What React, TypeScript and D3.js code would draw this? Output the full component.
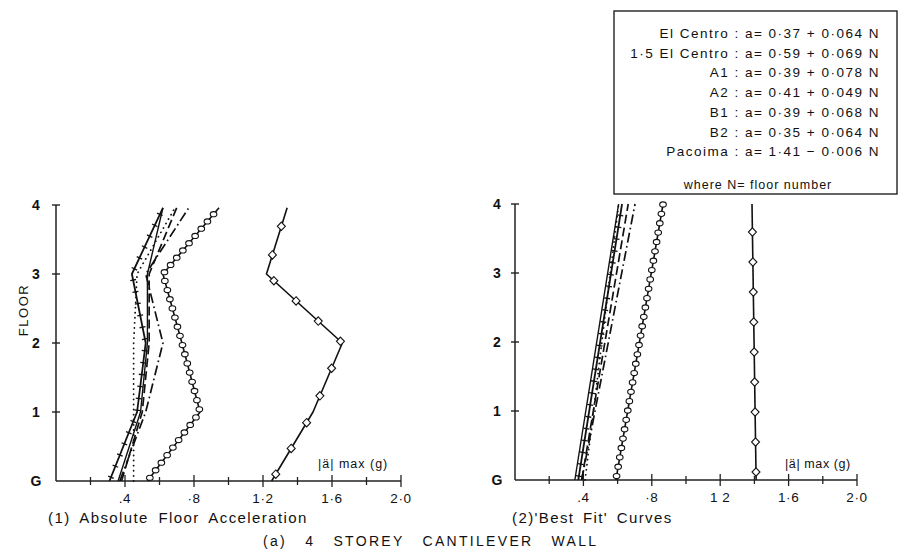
import React from "react";
import * as d3 from "d3";

// Floor levels (G = 0) and their labels
const FLOOR_LEVELS = [0, 1, 2, 3, 4];
const FLOOR_LABELS = ["G", "1", "2", "3", "4"];

// Peak absolute floor acceleration |a| max (g) per record, floors G..4
const SERIES_NAMES = ["El Centro", "1.5 El Centro", "A1", "A2", "B1", "B2", "Pacoima"];
const EL_CENTRO = [0.31, 0.47, 0.52, 0.44, 0.62];
const EL_CENTRO_15 = [0.53, 0.835, 0.73, 0.62, 0.945];
const A1 = [0.37, 0.52, 0.62, 0.52, 0.77];
const A2 = [0.45, 0.45, 0.45, 0.47, 0.69];
const B1 = [0.38, 0.5, 0.54, 0.54, 0.7];
const B2 = [0.36, 0.49, 0.53, 0.53, 0.62];
const PACOIMA = [1.25, 1.49, 1.66, 1.22, 1.34];

// Best-fit coefficients a = intercept + slope * N
const FIT_INTERCEPT = [0.37, 0.59, 0.39, 0.41, 0.39, 0.35, 1.41];
const FIT_SLOPE = [0.064, 0.069, 0.078, 0.049, 0.068, 0.064, -0.006];
const FIT_TEXT = [
  "El  Centro : a= 0·37 + 0·064 N",
  "1·5 El  Centro : a= 0·59 + 0·069 N",
  "A1 : a= 0·39 + 0·078 N",
  "A2 : a= 0·41 + 0·049 N",
  "B1 : a= 0·39 + 0·068 N",
  "B2 : a= 0·35 + 0·064 N",
  "Pacoima : a= 1·41 − 0·006 N",
];

// Acceleration axis ticks
const MAJOR_TICKS = [0.4, 0.8, 1.2, 1.6, 2.0];
const MINOR_TICKS = [0.2, 0.6, 1.0, 1.4, 1.8];
const LEFT_TICK_TEXT = [".4", "·8", "1·2", "1·6", "2·0"];
const RIGHT_TICK_TEXT = [".4", "·8", "1 2", "1·6", "2·0"];

const OBSERVED = [EL_CENTRO, EL_CENTRO_15, A1, A2, B1, B2, PACOIMA];

type Style = {
  dash?: string;
  width: number;
  marker?: "cross" | "circle" | "diamond";
  spacing?: number;
  cap?: "round" | "butt";
};

const STYLES: Style[] = [
  { width: 1.8, marker: "cross", spacing: 12 },
  { width: 1.6, marker: "circle", spacing: 9.5 },
  { width: 1.7, dash: "10,3.5,1.6,3.5" },
  { width: 1.8, dash: "0.1,5", cap: "round" },
  { width: 1.7, dash: "9,4" },
  { width: 1.4 },
  { width: 1.6, marker: "diamond", spacing: 30 },
];

const FONT = "'Liberation Sans', 'DejaVu Sans', sans-serif";

type Pt = [number, number];

// Evenly spaced points along a polyline (for symbol placement)
function along(pts: Pt[], spacing: number, offset: number): { p: Pt; ang: number }[] {
  const out: { p: Pt; ang: number }[] = [];
  let next = offset;
  let acc = 0;
  for (let i = 1; i < pts.length; i++) {
    const [x0, y0] = pts[i - 1];
    const [x1, y1] = pts[i];
    const len = Math.hypot(x1 - x0, y1 - y0);
    const ang = Math.atan2(y1 - y0, x1 - x0);
    while (next <= acc + len) {
      const t = (next - acc) / len;
      out.push({ p: [x0 + (x1 - x0) * t, y0 + (y1 - y0) * t], ang });
      next += spacing;
    }
    acc += len;
  }
  return out;
}

function Markers({ pts, st }: { pts: Pt[]; st: Style }) {
  if (!st.marker) return null;
  const items = along(pts, st.spacing || 10, st.marker === "diamond" ? 8 : 4);
  return (
    <g>
      {items.map((m, i) => {
        const [x, y] = m.p;
        if (st.marker === "circle") {
          return (
            <ellipse key={i} cx={x} cy={y} rx={3.3} ry={2.6} fill="white" stroke="#111" strokeWidth={1.1} />
          );
        }
        if (st.marker === "diamond") {
          return (
            <path
              key={i}
              d={`M${x},${y - 4.2}L${x + 4},${y}L${x},${y + 4.2}L${x - 4},${y}Z`}
              fill="white"
              stroke="#111"
              strokeWidth={1.1}
            />
          );
        }
        const a = m.ang + Math.PI / 2;
        const dx = Math.cos(a) * 3;
        const dy = Math.sin(a) * 3;
        return <line key={i} x1={x - dx} y1={y - dy} x2={x + dx} y2={y + dy} stroke="#111" strokeWidth={1.3} />;
      })}
    </g>
  );
}

function Panel({
  x,
  y,
  series,
  tickText,
  labelX,
}: {
  x: d3.ScaleLinear<number, number>;
  y: d3.ScaleLinear<number, number>;
  series: number[][][];
  tickText: string[];
  labelX: number;
}) {
  const line = d3
    .line<[number, number]>()
    .x((d) => x(d[0]))
    .y((d) => y(d[1]));
  const x0 = x(0);
  const y0 = y(0);
  return (
    <g>
      {/* axes */}
      <line x1={x0} y1={y(4)} x2={x0} y2={y0} stroke="#222" strokeWidth={1.5} />
      <line x1={x0} y1={y0} x2={x(2)} y2={y0} stroke="#222" strokeWidth={1.5} />
      {FLOOR_LEVELS.map((f, i) => (
        <g key={f}>
          {f > 0 && <line x1={x0 - 4} x2={x0 + 4} y1={y(f)} y2={y(f)} stroke="#222" strokeWidth={1.4} />}
          <text
            x={labelX}
            y={y(f) + 5}
            fontFamily={FONT}
            fontSize={14}
            fontWeight="bold"
            textAnchor="middle"
            fill="#111"
          >
            {FLOOR_LABELS[i]}
          </text>
        </g>
      ))}
      {MINOR_TICKS.map((t) => (
        <line key={t} x1={x(t)} x2={x(t)} y1={y0 - 4} y2={y0 + 4} stroke="#222" strokeWidth={1.3} />
      ))}
      {MAJOR_TICKS.map((t, i) => (
        <g key={t}>
          <line x1={x(t)} x2={x(t)} y1={y0 - 6} y2={y0 + 6} stroke="#222" strokeWidth={1.3} />
          <text
            x={x(t)}
            y={y0 + 22}
            fontFamily={FONT}
            fontSize={13.5}
            letterSpacing={0.6}
            textAnchor="middle"
            fill="#111"
          >
            {tickText[i]}
          </text>
        </g>
      ))}
      {/* data lines */}
      {series.map((pts, i) => {
        const st = STYLES[i];
        const px: Pt[] = pts.map((d) => [x(d[0]), y(d[1])]);
        return (
          <g key={SERIES_NAMES[i]}>
            <path
              d={line(pts as [number, number][]) || ""}
              fill="none"
              stroke="#111"
              strokeWidth={st.width}
              strokeDasharray={st.dash}
              strokeLinecap={st.cap || "butt"}
              strokeLinejoin="round"
            />
            <Markers pts={px} st={st} />
          </g>
        );
      })}
    </g>
  );
}

export default function App() {
  const xL = d3.scaleLinear().domain([0, 2]).range([56, 401]);
  const yL = d3.scaleLinear().domain([0, 4]).range([481, 205]);
  const xR = d3.scaleLinear().domain([0, 2]).range([515, 857]);
  const yR = d3.scaleLinear().domain([0, 4]).range([480, 204]);

  // Observed profiles drawn just below the roof level
  const observed = OBSERVED.map((vals) => vals.map((v, i) => [v, i === 4 ? 3.96 : FLOOR_LEVELS[i]]));
  // Best-fit straight lines from the fitted coefficients
  const fitted = FIT_INTERCEPT.map((a0, i) => [
    [a0, 0],
    [a0 + FIT_SLOPE[i] * 4, 4],
  ]);

  return (
    <svg
      width={910}
      height={557}
      style={{ position: "absolute", left: 0, top: 0, background: "white" }}
    >
      <rect x={0} y={0} width={910} height={557} fill="white" />
      <Panel x={xL} y={yL} series={observed} tickText={LEFT_TICK_TEXT} labelX={36} />
      <Panel x={xR} y={yR} series={fitted} tickText={RIGHT_TICK_TEXT} labelX={497} />

      {/* axis captions */}
      <text
        transform="translate(28,310) rotate(-90)"
        fontFamily={FONT}
        fontSize={13}
        textAnchor="middle"
        letterSpacing={1.5}
        fill="#111"
      >
        FLOOR
      </text>
      <text x={318} y={468} fontFamily={FONT} fontSize={12.5} letterSpacing={1} fill="#111">
        |ä|  max (g)
      </text>
      <text x={785} y={468} fontFamily={FONT} fontSize={12.5} letterSpacing={0.6} fill="#111">
        |ä| max (g)
      </text>
      <text x={48} y={523} fontFamily={FONT} fontSize={15} letterSpacing={1.4} wordSpacing={4} fill="#111">
        (1) Absolute Floor Acceleration
      </text>
      <text x={512} y={523} fontFamily={FONT} fontSize={15} letterSpacing={1.4} wordSpacing={3} fill="#111">
        (2)'Best  Fit' Curves
      </text>
      <text x={263} y={546} fontFamily={FONT} fontSize={14} letterSpacing={2.3} wordSpacing={12} fill="#111">
        (a) 4 STOREY CANTILEVER WALL
      </text>

      {/* legend of fitted equations */}
      <rect x={614} y={11} width={283} height={183} fill="white" stroke="#222" strokeWidth={1.4} />
      {FIT_TEXT.map((t, i) => (
        <text
          key={t}
          x={880}
          y={38 + i * 19.7}
          fontFamily={FONT}
          fontSize={13.5}
          textAnchor="end"
          letterSpacing={1.5}
          fill="#111"
        >
          {t}
        </text>
      ))}
      <text x={758} y={189} fontFamily={FONT} fontSize={12.5} textAnchor="middle" letterSpacing={1} fill="#111">
        where N= floor number
      </text>
    </svg>
  );
}
